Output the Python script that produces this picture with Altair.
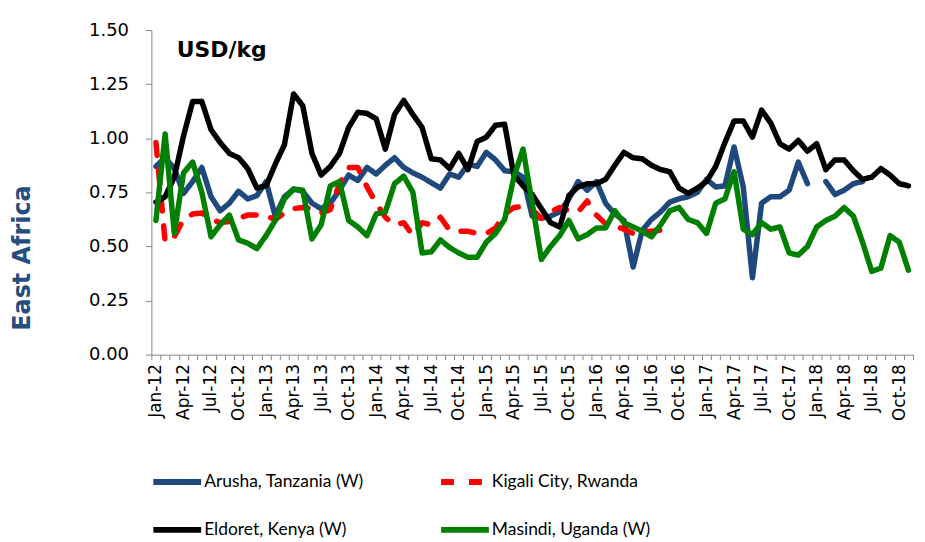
import altair as alt
import pandas as pd

# ---------------- data ----------------
MONTH_ABBR = ["Jan", "Feb", "Mar", "Apr", "May", "Jun",
              "Jul", "Aug", "Sep", "Oct", "Nov", "Dec"]
YEARS = ["12", "13", "14", "15", "16", "17", "18"]
months = [f"{m}-{y}" for y in YEARS for m in MONTH_ABBR][:83]   # Jan-12 .. Nov-18

series_names = ["Arusha, Tanzania  (W)", "Kigali City, Rwanda",
                "Eldoret, Kenya  (W)", "Masindi, Uganda  (W)"]
# legend fills column by column: Arusha/Eldoret left, Kigali/Masindi right
legend_order = ["Arusha, Tanzania  (W)", "Eldoret, Kenya  (W)",
                "Kigali City, Rwanda", "Masindi, Uganda  (W)"]
legend_colors = ["#1F497D", "#000000", "#FF0000", "#008000"]
legend_dashes = [[1, 0], [1, 0], [13, 15], [1, 0]]

arusha = [0.87, 0.91, 0.86, 0.745, 0.80, 0.865, 0.73, 0.665, 0.70, 0.755, 0.72, 0.735,
          0.80, 0.64, 0.73, 0.765, 0.755, 0.70, 0.675, 0.70, 0.76, 0.83, 0.805, 0.865,
          0.835, 0.875, 0.91, 0.865, 0.84, 0.82, 0.795, 0.77, 0.835, 0.82, 0.88, 0.87,
          0.935, 0.90, 0.85, 0.845, 0.82, 0.64, 0.63, 0.64, 0.66, 0.72, 0.80, 0.76,
          0.80, 0.70, 0.65, 0.62, 0.405, 0.575, 0.625, 0.66, 0.705, 0.72, 0.73, 0.75,
          0.81, 0.775, 0.78, 0.96, 0.775, 0.355, 0.70, 0.73, 0.73, 0.76, 0.89, 0.79,
          None, 0.80, 0.74, 0.76, 0.79, 0.80, None, None, None, None, None]

kigali = [0.98, 0.52, 0.545, 0.625, 0.65, 0.655, 0.625, 0.61, 0.615, 0.63, 0.645, 0.645,
          0.64, 0.625, 0.655, 0.675, 0.68, 0.675, 0.655, 0.67, 0.79, 0.865, 0.865, 0.775,
          0.70, 0.635, 0.60, 0.61, 0.55, 0.61, 0.60, 0.635, 0.575, 0.57, 0.57, 0.56,
          0.56, 0.585, 0.65, 0.68, 0.685, 0.67, 0.63, 0.66, 0.68, 0.665, 0.66, 0.71,
          0.645, 0.605, 0.595, 0.58, 0.56, 0.565, 0.57, 0.575, 0.575, None, None, None,
          None, None, None, None, None, None, None, None, None, None, None, None,
          None, None, None, None, None, None, None, None, None, None, None]

eldoret = [0.705, 0.73, 0.82, 1.01, 1.17, 1.17, 1.04, 0.98, 0.93, 0.91, 0.86, 0.77,
           0.78, 0.88, 0.97, 1.205, 1.15, 0.93, 0.83, 0.87, 0.93, 1.05, 1.12, 1.115,
           1.09, 0.95, 1.11, 1.175, 1.11, 1.05, 0.905, 0.90, 0.86, 0.93, 0.855, 0.985,
           1.005, 1.06, 1.065, 0.83, 0.78, 0.74, 0.675, 0.61, 0.59, 0.735, 0.775, 0.79,
           0.79, 0.81, 0.875, 0.935, 0.91, 0.905, 0.875, 0.855, 0.845, 0.77, 0.745, 0.77,
           0.80, 0.87, 0.98, 1.08, 1.08, 1.005, 1.13, 1.07, 0.975, 0.95, 0.99, 0.94,
           0.975, 0.855, 0.90, 0.90, 0.85, 0.81, 0.82, 0.86, 0.83, 0.79, 0.78]

masindi = [0.62, 1.02, 0.56, 0.84, 0.89, 0.75, 0.545, 0.60, 0.645, 0.53, 0.515, 0.49,
           0.55, 0.62, 0.72, 0.765, 0.76, 0.535, 0.60, 0.78, 0.80, 0.62, 0.59, 0.55,
           0.65, 0.66, 0.79, 0.825, 0.75, 0.47, 0.475, 0.53, 0.495, 0.47, 0.45, 0.45,
           0.52, 0.56, 0.625, 0.82, 0.95, 0.70, 0.44, 0.50, 0.55, 0.62, 0.535, 0.555,
           0.585, 0.585, 0.665, 0.61, 0.59, 0.57, 0.545, 0.60, 0.665, 0.68, 0.625, 0.61,
           0.56, 0.70, 0.72, 0.845, 0.58, 0.555, 0.61, 0.58, 0.59, 0.47, 0.46, 0.50,
           0.59, 0.62, 0.64, 0.68, 0.64, 0.52, 0.385, 0.40, 0.55, 0.52, 0.39]

y_ticks = [0.0, 0.25, 0.5, 0.75, 1.0, 1.25, 1.5]

# data order = drawing order (Arusha, Kigali, Eldoret, Masindi on top)
rows = []
for name, vals in zip(series_names, [arusha, kigali, eldoret, masindi]):
    for m, v in zip(months, vals):
        rows.append({"series": name, "month": m, "value": v})
df = pd.DataFrame(rows)

# ---------------- chart ----------------
AXIS_GRAY = "#868686"
FONT = "DejaVu Sans"

legend = alt.Legend(
    title=None, orient="none", legendX=-1, legendY=427, columns=2,
    columnPadding=61, rowPadding=9, padding=0,
    symbolType="stroke", symbolSize=2304, symbolStrokeWidth=6,
    labelFont="Lato", labelFontSize=17.5, labelColor="#000000",
    labelOffset=0, labelLimit=400,
)

lines = alt.Chart(df).mark_line(
    strokeWidth=5.5, strokeCap="round", strokeJoin="round",
    invalid="break-paths-filter-domains",
).encode(
    x=alt.X(
        "month:O", sort=months, bandPosition=0.5,
        scale=alt.Scale(type="band", domain=months, paddingInner=0, paddingOuter=0),
        axis=alt.Axis(
            title=None, labelAngle=-90, labelOverlap=False,
            labelExpr="test(/^(Jan|Apr|Jul|Oct)/, datum.label) ? datum.label : ''",
            tickBand="extent", tickSize=5, tickColor=AXIS_GRAY, domainColor=AXIS_GRAY,
            labelFont=FONT, labelFontSize=17, labelColor="#000000", labelPadding=4,
            grid=False,
        ),
    ),
    y=alt.Y(
        "value:Q",
        scale=alt.Scale(domain=[0, 1.5], nice=False, zero=True),
        axis=alt.Axis(
            values=y_ticks, format=".2f", grid=False,
            tickSize=6, tickColor=AXIS_GRAY, domainColor=AXIS_GRAY,
            labelFont=FONT, labelFontSize=18, labelColor="#000000", labelPadding=17,
            title="East Africa", titleFont=FONT, titleFontSize=24, titleFontWeight="bold",
            titleColor="#264D7F", titleAngle=270, titleX=-129, titleY=228.5,
            titleAlign="center", titleBaseline="middle",
        ),
    ),
    color=alt.Color("series:N", sort=legend_order,
                    scale=alt.Scale(domain=legend_order, range=legend_colors),
                    legend=legend),
    strokeDash=alt.StrokeDash("series:N", sort=legend_order,
                              scale=alt.Scale(domain=legend_order, range=legend_dashes),
                              legend=legend),
)

unit_label = alt.Chart(pd.DataFrame({"t": ["USD/kg"]})).mark_text(
    align="left", baseline="alphabetic", font=FONT, fontWeight="bold", fontSize=22,
    color="#000000",
).encode(x=alt.value(25.5), y=alt.value(27.5), text="t:N")

chart = alt.layer(lines, unit_label).properties(
    width=765, height=326,
    autosize=alt.AutoSizeParams(type="none"),
    padding={"left": 144, "top": 21, "right": 4, "bottom": 185},
).configure_view(stroke=None)

chart.save("out.html", embed_options={"renderer": "svg", "actions": False})
